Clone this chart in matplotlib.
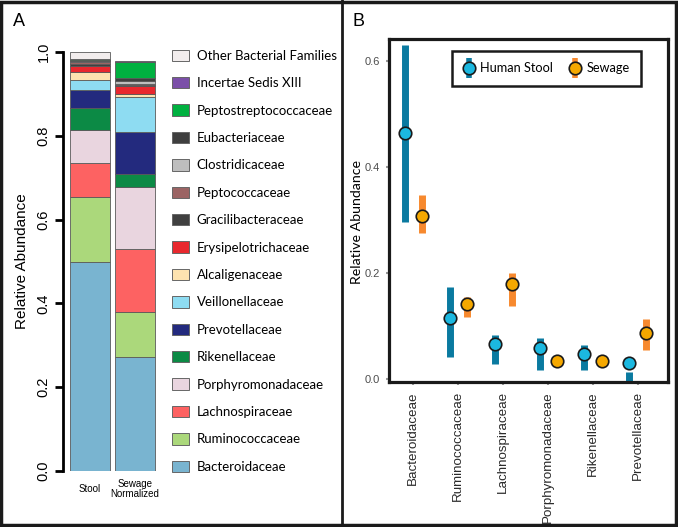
import numpy as np
import matplotlib
matplotlib.use("Agg")
import matplotlib.pyplot as plt
from matplotlib.patches import Patch, Rectangle
from matplotlib.lines import Line2D
from matplotlib.legend_handler import HandlerTuple

# panel A: stacked composition, bottom to top
families = ["Bacteroidaceae", "Ruminococcaceae", "Lachnospiraceae", "Porphyromonadaceae",
            "Rikenellaceae", "Prevotellaceae", "Veillonellaceae", "Alcaligenaceae",
            "Erysipelotrichaceae", "Gracilibacteraceae", "Peptococcaceae", "Clostridicaceae",
            "Eubacteriaceae", "Peptostreptococcaceae", "Incertae Sedis XIII",
            "Other Bacterial Families"]
family_colors = ["#79b4d0", "#abd87b", "#fd6262", "#e9d5df", "#0c8a45", "#232a7e",
                 "#8edcf2", "#fde3b0", "#e8282e", "#404040", "#9b6464", "#bebebe",
                 "#3f3f3f", "#00b140", "#7b4fa8", "#f2eded"]
stool = [0.500, 0.153, 0.083, 0.077, 0.053, 0.044, 0.024, 0.018,
         0.014, 0.005, 0.005, 0.002, 0.004, 0.001, 0.001, 0.016]
sewage = [0.271, 0.108, 0.152, 0.146, 0.031, 0.101, 0.084, 0.007,
          0.019, 0.003, 0.002, 0.006, 0.008, 0.039, 0.001, 0.000]
samples = ["Stool", "Sewage\nNormalized"]

# panel B: top families, point + range
top_families = ["Bacteroidaceae", "Ruminococcaceae", "Lachnospiraceae",
                "Porphyromonadaceae", "Rikenellaceae", "Prevotellaceae"]
human_mid = [0.465, 0.114, 0.066, 0.058, 0.047, 0.030]
human_lo = [0.297, 0.042, 0.028, 0.017, 0.016, -0.010]
human_hi = [0.630, 0.174, 0.082, 0.077, 0.063, 0.012]
sewage_mid = [0.308, 0.141, 0.179, 0.033, 0.033, 0.087]
sewage_lo = [0.275, 0.116, 0.138, 0.028, 0.028, 0.055]
sewage_hi = [0.348, 0.154, 0.199, 0.037, 0.037, 0.113]

W, H = 678, 527
fig = plt.figure(figsize=(W / 100, H / 100), dpi=100)

def box(l, t, r, b):
    return [l / W, (H - b) / H, (r - l) / W, (b - t) / H]

arial = "Liberation Sans"
myriad = "Lato"

# ---------------- panel A ----------------
axA = fig.add_axes(box(63, 52, 160, 471))
xs = np.arange(len(samples))
for s_i, vals in enumerate([stool, sewage]):
    bottom = 0.0
    for v, c in zip(vals, family_colors):
        if v > 0:
            axA.bar(xs[s_i], v, bottom=bottom, width=0.89, color=c,
                    edgecolor="#5a5a5a", linewidth=0.6)
        bottom += v
axA.set_xlim(-0.6, 1.556)
axA.set_ylim(0, 1)
for sp in ["top", "right", "bottom"]:
    axA.spines[sp].set_visible(False)
axA.spines["left"].set_linewidth(2)
axA.set_yticks([0, 0.2, 0.4, 0.6, 0.8, 1.0])
axA.set_yticklabels(["0.0", "0.2", "0.4", "0.6", "0.8", "1.0"], rotation=90,
                    va="center", family=arial, fontsize=10.5)
axA.tick_params(axis="y", width=2, length=6, pad=3)
axA.set_xticks(xs)
axA.set_xticklabels(samples, family=arial, fontsize=7, linespacing=1.1, va="center")
axA.tick_params(axis="x", length=0, pad=13)
axA.set_ylabel("Relative Abundance", family=arial, fontsize=11)
axA.yaxis.set_label_coords((29 - 63) / 97, 0.5)

handles = [Patch(facecolor=c, edgecolor="#666666", linewidth=0.7)
           for c in family_colors][::-1]
legA = fig.legend(handles, families[::-1], loc="upper left",
                  bbox_to_anchor=(165 / W, 1 - 43 / H), frameon=False,
                  prop={"family": myriad, "size": 9.5},
                  handlelength=1.35, handleheight=0.95, labelspacing=1.15,
                  handletextpad=0.55, borderpad=0)

fig.text(13 / W, 1 - 22 / H, "A", fontsize=13, family=arial, va="center")

# ---------------- panel B ----------------
axB = fig.add_axes(box(389, 39, 668, 382))
pos = np.arange(1, len(top_families) + 1)
dodge = 0.19
blue_line, blue_pt = "#0a7aa0", "#1bb8e0"
orange_line, orange_pt = "#f7892e", "#f5a800"
axB.vlines(pos - dodge, human_lo, human_hi, color=blue_line, linewidth=5)
axB.vlines(pos + dodge, sewage_lo, sewage_hi, color=orange_line, linewidth=5)
axB.plot(pos - dodge, human_mid, "o", ms=9, mfc=blue_pt, mec="#1a1a1a", mew=1.2)
axB.plot(pos + dodge, sewage_mid, "o", ms=9, mfc=orange_pt, mec="#1a1a1a", mew=1.2)
axB.set_xlim(0.46, 6.67)
axB.set_ylim(-0.006, 0.642)
for sp in axB.spines.values():
    sp.set_linewidth(2.3)
    sp.set_color("#1a1a1a")
axB.set_yticks([0, 0.2, 0.4, 0.6])
axB.set_yticklabels(["0.0", "0.2", "0.4", "0.6"], family=arial, fontsize=8,
                    color="#4d4d4d")
axB.set_xticks(pos)
axB.set_xticklabels(top_families, rotation=90, family=arial, fontsize=9.6,
                    color="#2a2a2a")
axB.tick_params(axis="both", length=2.5, width=1.5, color="#999999", pad=4)
axB.set_ylabel("Relative Abundance", family=myriad, fontsize=10.2)
axB.yaxis.set_label_coords((363 - 389) / 279, (382 - 222) / 343)

h_human = (Line2D([], [], marker="|", ms=15, mew=4, color=blue_line, ls="none"),
           Line2D([], [], marker="o", ms=9, mfc=blue_pt, mec="#1a1a1a", mew=1.2, ls="none"))
h_sew = (Line2D([], [], marker="|", ms=15, mew=4, color=orange_line, ls="none"),
         Line2D([], [], marker="o", ms=9, mfc=orange_pt, mec="#1a1a1a", mew=1.2, ls="none"))
legB = axB.legend([h_human, h_sew], ["Human Stool", "Sewage"], ncol=2,
                  handler_map={tuple: HandlerTuple(ndivide=1, pad=0)},
                  loc="upper left", bbox_to_anchor=((452 - 389) / 279, 1 - (51 - 39) / 343),
                  prop={"family": myriad, "size": 9.2}, handlelength=0.8,
                  handletextpad=0.5, columnspacing=1.3, borderpad=0.9,
                  borderaxespad=0,
                  fancybox=False, edgecolor="#1a1a1a", framealpha=1)
legB.get_frame().set_linewidth(1.8)

fig.text(353 / W, 1 - 22 / H, "B", fontsize=13, family=arial, va="center")

# panel frames
fig.patches.append(Rectangle((0.002, 0.003), 0.995, 0.994, transform=fig.transFigure,
                             fill=False, edgecolor="#1a1a1a", linewidth=2.5))
fig.add_artist(Line2D([342 / W, 342 / W], [0, 1], transform=fig.transFigure,
                      color="#1a1a1a", linewidth=2))

fig.savefig("out.png", dpi=100)
